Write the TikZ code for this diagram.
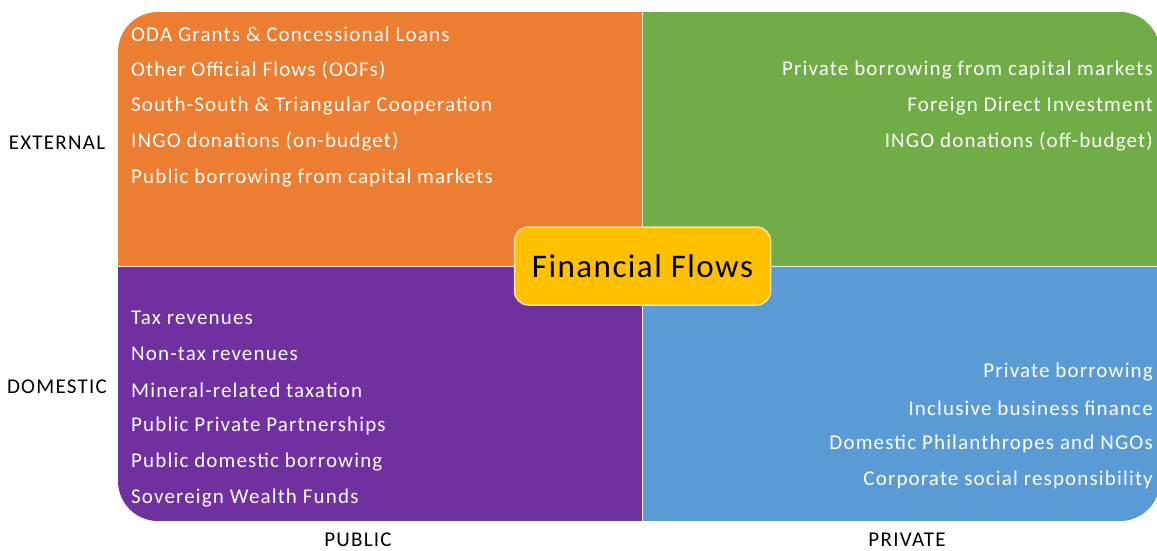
\documentclass[tikz,border=0pt]{standalone}
\usepackage{fontspec}
\setmainfont{Carlito}
\usetikzlibrary{positioning}
\definecolor{qorange}{HTML}{ED7D31}
\definecolor{qgreen}{HTML}{70AD47}
\definecolor{qpurple}{HTML}{7030A0}
\definecolor{qblue}{HTML}{5B9BD5}
\definecolor{hubyellow}{HTML}{FFC000}
\definecolor{hubedge}{HTML}{FBE3A0}
\tikzset{
  flowtext/.style={text=white, inner sep=0pt,
    font=\fontsize{21}{25}\selectfont\addfontfeatures{LetterSpace=5.5}},
  flowleft/.style={flowtext, anchor=west},
  flowright/.style={flowtext, anchor=east},
  axislabel/.style={text=black, inner sep=0pt,
    font=\fontsize{21}{25}\selectfont\addfontfeatures{LetterSpace=6}},
  hubbox/.style={fill=hubyellow, draw=hubedge, line width=1.5pt, rounded corners=14pt,
    minimum width=256pt, minimum height=78pt, inner sep=0pt,
    font=\fontsize{33}{38}\selectfont\addfontfeatures{LetterSpace=4.5}},
}

\begin{document}
\begin{tikzpicture}[x=1pt, y=-1pt]
  \useasboundingbox (0,0) rectangle (1157,550);

  % the four quadrants
  \begin{scope}
    \clip[rounded corners=40pt] (118,12) rectangle (1160,521);
    \fill[qorange] (118,12) rectangle (642,266);
    \fill[qgreen]  (642,12) rectangle (1160,266);
    \fill[qpurple] (118,266) rectangle (642,521);
    \fill[qblue]   (642,266) rectangle (1160,521);
  \end{scope}
  \draw[white!85!gray, line width=1pt] (642,12) -- (642,521);
  \draw[white!85!gray, line width=1pt] (118,266) -- (1160,266);

  % external / public
  \foreach \txt [count=\i] in {ODA Grants \& Concessional Loans, Other Official Flows (OOFs),
      South-South \& Triangular Cooperation, INGO donations (on-budget),
      Public borrowing from capital markets}
    \node[flowleft] (extpub\i) at (131, 34+36*\i-36) {\txt};

  % external / private
  \foreach \txt [count=\i] in {Private borrowing from capital markets, Foreign Direct Investment,
      INGO donations (off-budget)}
    \node[flowright] (extpriv\i) at (1153, 70+36*\i-36) {\txt};

  % domestic / public
  \foreach \txt [count=\i] in {Tax revenues, Non-tax revenues, Mineral-related taxation,
      Public Private Partnerships, Public domestic borrowing, Sovereign Wealth Funds}
    \node[flowleft] (dompub\i) at (131, 318+36*\i-36) {\txt};

  % domestic / private
  \foreach \txt [count=\i] in {Private borrowing, Inclusive business finance,
      Domestic Philanthropes and NGOs, Corporate social responsibility}
    \node[flowright] (dompriv\i) at (1153, 372+36*\i-36) {\txt};

  \node[hubbox] (hub) at (642.5,266) {Financial Flows};

  % axis labels
  \node[axislabel] (external) at (57,143) {EXTERNAL};
  \node[axislabel] (domestic) at (57,387) {DOMESTIC};
  \node[axislabel] (public) at (358,540) {PUBLIC};
  \node[axislabel] (private) at (907,540) {PRIVATE};
\end{tikzpicture}
\end{document}
